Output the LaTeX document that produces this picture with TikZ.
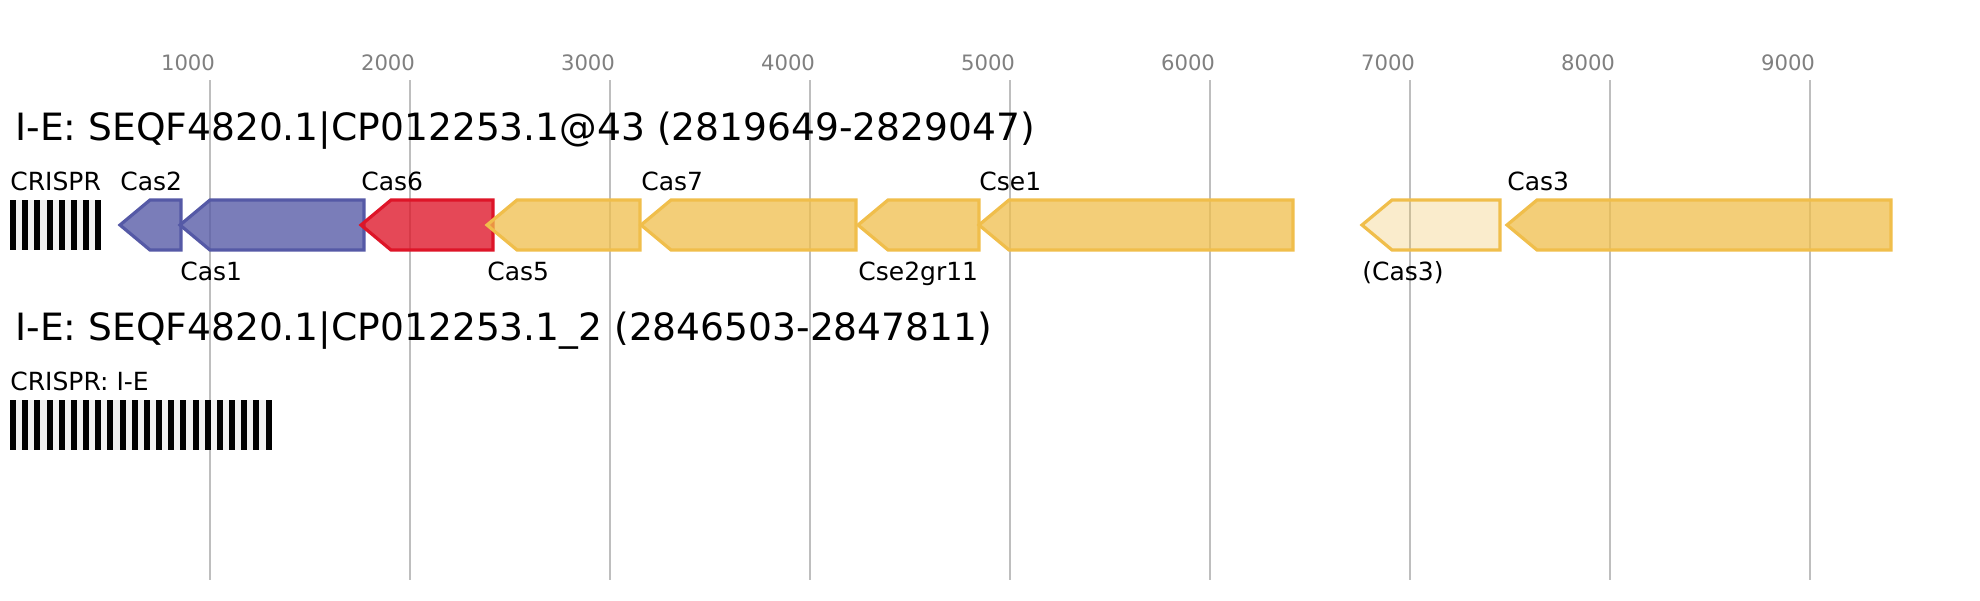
\documentclass[tikz,border=0pt]{standalone}
\usepackage{fontspec}
\setmainfont{DejaVu Sans}
\usepackage{xcolor}
\definecolor{gridgrey}{RGB}{190,190,190}
\definecolor{tickgrey}{RGB}{128,128,128}
\definecolor{casblue}{RGB}{85,89,166}
\definecolor{casred}{RGB}{222,21,40}
\definecolor{casyellow}{RGB}{240,190,75}
\definecolor{spacergrey}{RGB}{240,240,240}

\begin{document}
\begin{tikzpicture}[x=0.5pt, y=-0.5pt,
  gridline/.style={draw=gridgrey, line width=0.9pt},
  ticklabel/.style={text=tickgrey, font=\fontsize{10.6}{12}\selectfont, inner sep=0pt, anchor=base},
  locustitle/.style={font=\fontsize{18.8}{22}\selectfont, inner sep=0pt, anchor=base west},
  genelabel/.style={font=\fontsize{12.5}{15}\selectfont, inner sep=0pt, anchor=base west},
  gblue/.style={draw=casblue, fill=casblue, fill opacity=0.78, line width=1.6pt},
  gred/.style={draw=casred, fill=casred, fill opacity=0.78, line width=1.6pt},
  gyellow/.style={draw=casyellow, fill=casyellow, fill opacity=0.75, line width=1.6pt},
  gpseudo/.style={draw=casyellow, fill=casyellow, fill opacity=0.28, line width=1.6pt},
]
\useasboundingbox[fill=white] (0,0) rectangle (1980,600);

% ruler
\foreach \k in {1,...,9} {
  \draw[gridline] (10+200*\k,80) -- (10+200*\k,580);
  \node[ticklabel] (tick\k) at (200*\k-12,70) {\k000};
}

% locus 1
\node[locustitle] (title1) at (15,140) {I-E: SEQF4820.1|CP012253.1@43 (2819649-2829047)};

\fill[spacergrey] (10,200) rectangle (101,250);
\foreach \i in {0,...,7}
  \fill[black] (10+12.17*\i,200) rectangle ++(6,50);
\node[genelabel] (crispr1) at (10,190) {CRISPR};

\foreach \tip/\rgt/\sty/\nm/\lab/\ly in {
  120/181/gblue/cas2/Cas2/190,
  180/364/gblue/cas1/Cas1/280,
  361/493/gred/cas6/Cas6/190,
  487/640/gyellow/cas5/Cas5/280,
  641/856/gyellow/cas7/Cas7/190,
  858/979/gyellow/cse2/Cse2gr11/280,
  979/1293/gyellow/cse1/Cse1/190,
  1362/1500/gpseudo/cas3p/(Cas3)/280,
  1507/1891/gyellow/cas3/Cas3/190} {
  \draw[\sty] (\tip,225) -- (\tip+30,200) -- (\rgt,200) -- (\rgt,250) -- (\tip+30,250) -- cycle;
  \node[genelabel] (\nm) at (\tip,\ly) {\lab};
}

% locus 2
\node[locustitle] (title2) at (15,340) {I-E: SEQF4820.1|CP012253.1\_2 (2846503-2847811)};

\fill[spacergrey] (10,400) rectangle (272,450);
\foreach \i in {0,...,21}
  \fill[black] (10+12.17*\i,400) rectangle ++(6,50);
\node[genelabel] (crispr2) at (10,390) {CRISPR: I-E};

\end{tikzpicture}
\end{document}
